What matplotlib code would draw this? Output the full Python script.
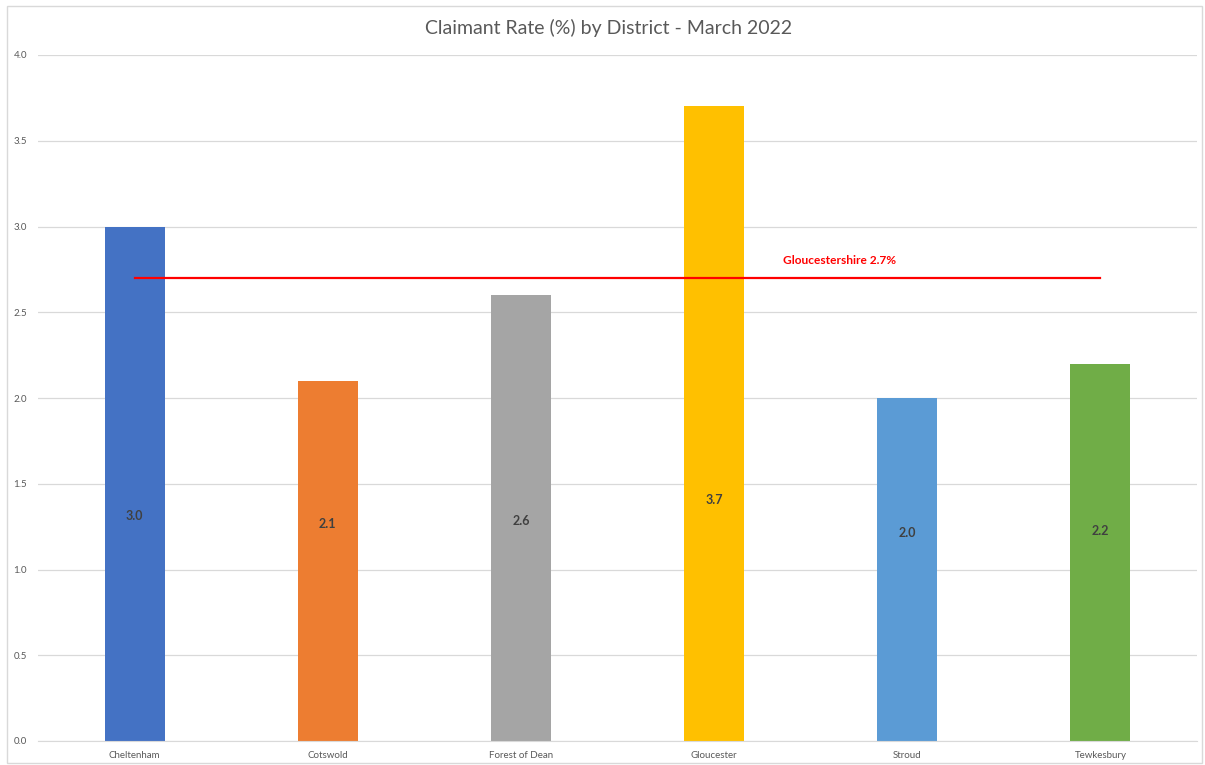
import matplotlib
matplotlib.use("Agg")
import matplotlib.pyplot as plt
from matplotlib.patches import Rectangle

districts = ["Cheltenham", "Cotswold", "Forest of Dean", "Gloucester", "Stroud", "Tewkesbury"]
rates = [3.0, 2.1, 2.6, 3.7, 2.0, 2.2]
label_pos = [1.31, 1.265, 1.28, 1.405, 1.21, 1.225]
county_rate = 2.7
county_label = "Gloucestershire 2.7%"
bar_colors = ["#4472C4", "#ED7D31", "#A5A5A5", "#FFC000", "#5B9BD5", "#70AD47"]

plt.rcParams['font.family'] = ['Lato', 'DejaVu Sans']

fig = plt.figure(figsize=(12.05, 7.65), dpi=100)
ax = fig.add_axes([38 / 1205, 24 / 765, 1159 / 1205, 686 / 765])

x = list(range(len(districts)))
ax.bar(x, rates, width=0.31, color=bar_colors, zorder=2)
for xi, v, p in zip(x, rates, label_pos):
    ax.text(xi, p, "%.1f" % v, ha="center", va="center", fontsize=9,
            fontweight="bold", color="#404040", zorder=3)

ax.plot([x[0], x[-1]], [county_rate, county_rate], color="#FF0000", lw=1.6, zorder=4)
ax.text(3.65, 2.8, county_label, ha="center", va="center", fontsize=8.6,
        fontweight="bold", color="#FF0000")

ax.set_xlim(-0.5, len(districts) - 0.5)
ax.set_ylim(0, 4.0)
ax.set_yticks([0, 0.5, 1.0, 1.5, 2.0, 2.5, 3.0, 3.5, 4.0])
ax.set_yticklabels(["%.1f" % t for t in ax.get_yticks()])
ax.set_xticks(x)
ax.set_xticklabels(districts)
ax.tick_params(axis="both", length=0, labelsize=7, colors="#595959")
ax.tick_params(axis="y", pad=8)
ax.tick_params(axis="x", pad=7)
ax.grid(axis="y", color="#D9D9D9", lw=0.9, zorder=0)
for s in ["top", "right", "left"]:
    ax.spines[s].set_visible(False)
ax.spines["bottom"].set_color("#D9D9D9")

fig.text(609 / 1205, 1 - 28 / 765, "Claimant Rate (%) by District - March 2022",
         ha="center", va="center", fontsize=14, color="#595959")

fig.patches.append(Rectangle((7 / 1205, 2 / 765), 1195 / 1205, 757 / 765,
                             transform=fig.transFigure, fill=False,
                             edgecolor="#D9D9D9", lw=1))

fig.savefig("out.png", dpi=100)
plt.close(fig)
